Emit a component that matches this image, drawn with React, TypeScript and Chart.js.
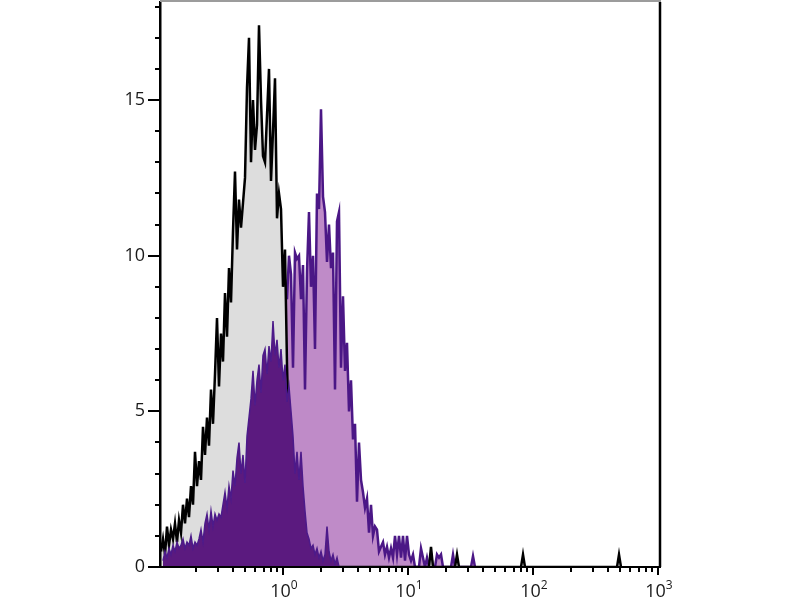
import { useEffect, useRef } from "react";
import { Chart, registerables } from "chart.js";

Chart.register(...registerables);

// Channel grid (log10 of the left edge of the first channel, channel width in decades)
const binLogStart = -0.984;
const binLogWidth = 0.016;

// Axis ranges / ticks
const xMinLog = -0.984;
const xMaxLog = 3.016;
const yMax = 18.15;
const yMajorTicks = [0, 5, 10, 15];
const yMinorTicks = [1, 2, 3, 4, 6, 7, 8, 9, 11, 12, 13, 14, 16, 17, 18];
const xDecadeExponents = [0, 1, 2, 3];
const xMinorMultipliers = [2, 3, 4, 5, 6, 7, 8, 9];

// Control (grey fill, black outline)
const controlStartBin = 0;
const controlCounts = [
  0.5, 0.9, 0.4, 1.3, 0.7, 1.2, 0.9, 1.4, 0.8, 1.5,
  1.1, 2.0, 1.4, 2.2, 1.6, 2.6, 2.0, 3.7, 2.6, 3.4,
  2.8, 4.5, 3.6, 4.8, 3.9, 5.7, 4.6, 6.2, 8.0, 5.8,
  7.5, 6.6, 8.8, 7.4, 9.6, 8.5, 10.8, 12.7, 10.2, 11.8,
  10.9, 11.7, 12.5, 15.4, 17.0, 13.0, 15.0, 13.4, 14.2, 17.4,
  15.0, 13.2, 13.0, 14.5, 16.0, 12.4, 14.0, 15.7, 11.2, 12.0,
  11.5, 9.0, 10.2, 6.5, 4.0, 2.0, 0.8, 0.3, 0,
];
const controlTail = [
  [135, 0.65],
  [148, 0.4],
  [181, 0.4],
  [229, 0.4],
];

// Stained population (light purple fill, dark purple outline)
const stainedStartBin = 45;
const stainedCounts = [
  1.0, 2.0, 2.5, 3.0, 3.5, 4.0, 4.5, 5.0, 5.5, 6.0,
  6.5, 7.0, 7.5, 8.0, 8.2, 8.5, 8.8, 9.2, 8.6, 10.0,
  9.4, 6.4, 10.1, 9.9, 10.0, 8.6, 9.7, 5.7, 9.5, 11.4,
  9.0, 10.0, 7.0, 12.0, 11.5, 14.7, 11.9, 11.4, 9.8, 11.0,
  9.6, 10.1, 5.7, 11.1, 11.4, 6.4, 8.7, 6.3, 7.2, 5.0,
  6.0, 4.1, 4.6, 2.1, 4.0, 2.8, 2.4, 1.9, 2.2, 1.1,
  2.0, 1.0, 1.3, 1.2, 0.5, 0.65, 0.8, 0.4, 0.65, 0.3,
  0.6, 0.3, 1.0, 0.4, 1.0, 0.3, 1.0, 0.2, 1.0, 0.4,
  0.2, 0.4, 0, 0, 0, 0.6, 0.3, 0, 0.3, 0,
  0.4, 0, 0, 0.4, 0.3, 0.4, 0,
];
const stainedTail = [
  [146, 0.4],
  [156, 0.35],
];

// Low-expressing population (dark purple fill)
const lowStartBin = 1;
const lowCounts = [
  0.2, 0.5, 0.3, 0.6, 0.4, 0.7, 0.5, 0.8, 0.6, 0.7,
  0.9, 0.6, 0.8, 0.7, 1.0, 0.6, 0.8, 0.7, 0.9, 1.2,
  0.8, 1.4, 1.7, 1.2, 1.8, 1.3, 1.7, 1.5, 1.7, 1.6,
  2.0, 2.4, 1.9, 2.6, 2.2, 3.1, 2.6, 3.5, 4.0, 3.0,
  3.6, 2.7, 4.2, 4.8, 5.4, 6.3, 5.2, 6.0, 6.5, 5.6,
  6.8, 7.0, 6.2, 7.1, 6.6, 7.9, 6.8, 7.3, 6.4, 7.0,
  6.0, 6.5, 5.3, 5.8, 5.0, 4.2, 3.0, 3.7, 2.8, 3.7,
  2.6, 1.8, 1.1, 0.9, 0.6, 0.7, 0.4, 0.6, 0.3, 0.5,
  0.2, 0.4, 1.3, 0.5, 0.2, 0.4, 0.1, 0.3, 0,
];

function channelValue(bin: number): number {
  return Math.pow(10, binLogStart + (bin + 0.5) * binLogWidth);
}

function toPoints(start: number, counts: number[], tail: number[][] = []) {
  const pts = counts.map((c, i) => ({ x: channelValue(start + i), y: c }));
  for (const [bin, c] of tail) {
    pts.push({ x: channelValue(bin - 1), y: 0 });
    pts.push({ x: channelValue(bin), y: c });
    pts.push({ x: channelValue(bin + 1), y: 0 });
  }
  return pts;
}

const FONT = "'Open Sans', 'Noto Sans', 'DejaVu Sans', sans-serif";

const framePlugin = {
  id: "frame",
  afterDraw(chart: any) {
    const { ctx, chartArea: a, scales } = chart;
    const xs = scales.x;
    const ys = scales.y;
    ctx.save();
    // top border
    ctx.strokeStyle = "#9c9c9c";
    ctx.lineWidth = 2;
    ctx.beginPath();
    ctx.moveTo(a.left, a.top - 1);
    ctx.lineTo(a.right + 1, a.top - 1);
    ctx.stroke();
    // right border
    ctx.strokeStyle = "#000";
    ctx.lineWidth = 2.5;
    ctx.beginPath();
    ctx.moveTo(a.right, a.top);
    ctx.lineTo(a.right, a.bottom);
    ctx.stroke();

    // y ticks
    ctx.strokeStyle = "#000";
    ctx.lineWidth = 2;
    for (const v of yMajorTicks) {
      const py = Math.round(ys.getPixelForValue(v));
      ctx.beginPath();
      ctx.moveTo(a.left - 12, py);
      ctx.lineTo(a.left, py);
      ctx.stroke();
    }
    for (const v of yMinorTicks) {
      const py = Math.round(ys.getPixelForValue(v));
      ctx.beginPath();
      ctx.moveTo(a.left - 5, py);
      ctx.lineTo(a.left, py);
      ctx.stroke();
    }

    // x ticks
    for (let e = -1; e <= 3; e++) {
      for (const m of [1, ...xMinorMultipliers]) {
        const val = m * Math.pow(10, e);
        const lv = Math.log10(val);
        if (lv < xMinLog || lv > xMaxLog) continue;
        const px = Math.round(xs.getPixelForValue(val));
        const len = m === 1 ? 8 : 5;
        ctx.beginPath();
        ctx.moveTo(px, a.bottom);
        ctx.lineTo(px, a.bottom + len);
        ctx.stroke();
      }
    }

    // x labels: 10^n
    ctx.fillStyle = "#1a1a1a";
    ctx.textBaseline = "alphabetic";
    ctx.textAlign = "left";
    for (const e of xDecadeExponents) {
      const px = xs.getPixelForValue(Math.pow(10, e));
      ctx.font = `18px ${FONT}`;
      const base = "10";
      const wBase = ctx.measureText(base).width;
      ctx.font = `12px ${FONT}`;
      const sup = String(e);
      const wSup = ctx.measureText(sup).width;
      const x0 = px - (wBase + wSup) / 2 + 1;
      ctx.font = `18px ${FONT}`;
      ctx.fillText(base, x0, 597);
      ctx.font = `12px ${FONT}`;
      ctx.fillText(sup, x0 + wBase, 589);
    }
    ctx.restore();
  },
};

function noPadding(s: any) {
  s.paddingTop = 0;
  s.paddingBottom = 0;
  s.paddingLeft = 0;
  s.paddingRight = 0;
}

export default function App() {
  const ref = useRef<HTMLCanvasElement | null>(null);

  useEffect(() => {
    if (!ref.current) return;
    const chart = new Chart(ref.current, {
      type: "line",
      data: {
        datasets: [
          {
            label: "low",
            data: toPoints(lowStartBin, lowCounts),
            borderColor: "#4c1a8a",
            backgroundColor: "#5b1a7f",
            borderWidth: 1.5,
            fill: "origin",
            pointRadius: 0,
            tension: 0,
          },
          {
            label: "control",
            data: toPoints(controlStartBin, controlCounts, controlTail),
            borderColor: "#000000",
            backgroundColor: "#dddddd",
            borderWidth: 2.5,
            fill: "origin",
            pointRadius: 0,
            tension: 0,
          },
          {
            label: "stained",
            data: toPoints(stainedStartBin, stainedCounts, stainedTail),
            borderColor: "#4b1786",
            backgroundColor: "#bf8bc8",
            borderWidth: 2.5,
            fill: "origin",
            pointRadius: 0,
            tension: 0,
          },
        ],
      },
      options: {
        animation: false,
        responsive: false,
        devicePixelRatio: 1,
        layout: { padding: { top: 2, right: 140, left: 0, bottom: 0 } },
        plugins: {
          legend: { display: false },
          tooltip: { enabled: false },
          filler: { propagate: false },
        },
        scales: {
          x: {
            type: "logarithmic",
            min: Math.pow(10, xMinLog),
            max: Math.pow(10, xMaxLog),
            grid: { display: false, drawTicks: false },
            border: { display: true, color: "#000", width: 2, z: 1 },
            ticks: { display: false },
            afterFit: (s: any) => {
              s.height = 33;
              noPadding(s);
            },
          },
          y: {
            type: "linear",
            min: 0,
            max: yMax,
            grid: { display: false, drawTicks: false },
            border: { display: true, color: "#000", width: 2.5, z: 1 },
            afterBuildTicks: (s: any) => {
              s.ticks = yMajorTicks.map((v) => ({ value: v }));
            },
            ticks: {
              padding: 15,
              color: "#1a1a1a",
              font: { family: FONT, size: 18 },
              callback: (v: any) => String(v),
            },
            afterFit: (s: any) => {
              s.width = 160;
              noPadding(s);
            },
          },
        },
      },
      plugins: [framePlugin],
    });
    return () => chart.destroy();
  }, []);

  return (
    <canvas
      ref={ref}
      width={800}
      height={600}
      style={{ position: "absolute", left: 0, top: 0, width: 800, height: 600, background: "#fff" }}
    />
  );
}
